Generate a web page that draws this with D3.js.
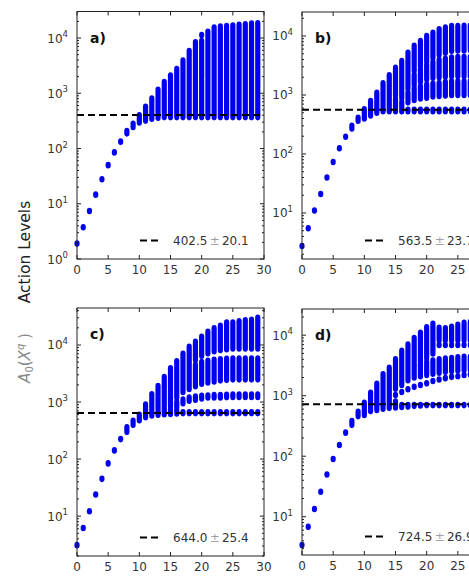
<!DOCTYPE html>
<html>
<head>
<meta charset="utf-8">
<script src="https://cdn.jsdelivr.net/npm/d3@7.9.0/dist/d3.min.js"></script>
<style>
  body { margin: 0; background: #fff; }
  text { font-family: "DejaVu Sans", sans-serif; }
</style>
</head>
<body>
<svg id="fig" width="469" height="585"></svg>
<script>
// x positions are 0..29, each entry is a list of [low, high] runs of points at that x
const xTicks = [0, 5, 10, 15, 20, 25, 30];
const labels = ['a)', 'b)', 'c)', 'd)'];
const means = [402.5, 563.5, 644.0, 724.5];
const errs = ['20.1', '23.7', '25.4', '26.9'];

const bandsA = [
  [[1.9, 1.9]], [[3.75, 3.75]], [[7.4, 7.4]], [[14.6, 14.6]], [[27.7, 27.7]],
  [[50, 50]], [[85, 85]], [[133, 133]], [[188, 208]], [[245, 280]],
  [[295, 400]], [[320, 570]], [[345, 800]], [[360, 1150]], [[370, 1600]],
  [[370, 2100]], [[370, 2750]], [[370, 3900]], [[370, 5800]], [[370, 8400]],
  [[370, 1700], [1950, 8800], [11300, 11300]], [[370, 13000]], [[370, 15500]], [[370, 16100]], [[370, 16500]],
  [[370, 16800]], [[370, 17400]], [[370, 17800]], [[370, 18200]], [[370, 18500]]
];

const bandsB = [
  [[2.76, 2.76]], [[5.5, 5.5]], [[11, 11]], [[21, 21]], [[40, 40]],
  [[73, 73]], [[125, 125]], [[196, 196]], [[270, 300]], [[365, 410]],
  [[400, 570]], [[450, 790]], [[500, 1090]], [[530, 1580]], [[530, 2150]],
  [[530, 850], [1000, 2900]],
  [[530, 760], [900, 3750]],
  [[530, 560], [750, 1100], [1300, 5200]],
  [[530, 560], [820, 1300], [1500, 2200], [2600, 6800]],
  [[530, 560], [870, 1400], [1700, 2700], [3100, 8200]],
  [[530, 560], [900, 1500], [1850, 3200], [3700, 10000]],
  [[530, 560], [940, 1550], [1950, 3600], [4300, 11300]],
  [[530, 560], [960, 1600], [2000, 3900], [4800, 13000]],
  [[530, 560], [980, 1650], [2050, 4100], [5200, 13900]],
  [[530, 560], [1000, 1700], [2100, 4300], [5600, 14800]],
  [[530, 560], [1000, 1700], [2100, 4400], [5700, 14800]],
  [[530, 560], [1000, 1700], [2100, 4400], [5700, 14900]],
  [[530, 560], [1000, 1700], [2100, 4400], [5800, 15000]],
  [[530, 560], [1000, 1700], [2100, 4400], [5800, 15000]],
  [[530, 560], [1000, 1700], [2100, 4400], [5800, 15100]]
];

const bandsC = [
  [[3.1, 3.1]], [[6.2, 6.2]], [[12.2, 12.2]], [[24, 24]], [[45, 45]],
  [[84, 84]], [[142, 142]], [[224, 224]], [[300, 360]], [[400, 470]],
  [[480, 600]], [[540, 900]], [[580, 1370]], [[600, 1900]], [[610, 2750]],
  [[620, 750], [850, 3900]],
  [[630, 700], [800, 1000], [1200, 5200]],
  [[640, 660], [950, 1100], [1500, 7000]],
  [[640, 660], [1050, 1200], [1700, 9300]],
  [[640, 660], [1100, 1250], [1900, 4500], [5500, 11400]],
  [[640, 660], [1150, 1280], [2100, 5000], [6500, 13900]],
  [[640, 660], [1200, 1300], [2200, 5300], [7200, 17100]],
  [[640, 660], [1200, 1320], [2300, 5500], [7800, 19600]],
  [[640, 660], [1200, 1330], [2400, 5600], [8200, 21600]],
  [[640, 660], [1220, 1340], [2450, 5700], [8400, 24700]],
  [[640, 660], [1230, 1350], [2500, 5800], [8700, 24700]],
  [[640, 660], [1230, 1350], [2500, 5800], [8700, 26000]],
  [[640, 660], [1230, 1350], [2500, 5800], [8700, 27000]],
  [[640, 660], [1230, 1350], [2500, 5800], [8700, 27500]],
  [[640, 660], [1230, 1350], [2500, 5800], [8700, 30000]]
];

const bandsD = [
  [[3.4, 3.4]], [[6.8, 6.8]], [[13.4, 13.4]], [[25.9, 25.9]], [[50, 50]],
  [[90, 90]], [[153, 153]], [[245, 245]], [[330, 380]], [[460, 540]],
  [[480, 760]], [[560, 1120]], [[580, 1580]], [[610, 2250]],
  [[630, 900], [1000, 2900]],
  [[640, 800], [1030, 1030], [1300, 4000]],
  [[650, 700], [1150, 1150], [1500, 5500]],
  [[660, 700], [1280, 1280], [1800, 7000]],
  [[680, 700], [1400, 1400], [2000, 3000], [3300, 9000]],
  [[690, 700], [1500, 1500], [2100, 3300], [3600, 11000]],
  [[700, 700], [1600, 1600], [2200, 3600], [4200, 13500]],
  [[700, 700], [1750, 1750], [2300, 3800], [5000, 15500]],
  [[700, 700], [1850, 1850], [2400, 4000], [6900, 6900], [8300, 13200]],
  [[700, 700], [1950, 1950], [2500, 4100], [6900, 6900], [8300, 13000]],
  [[700, 700], [2050, 2050], [2550, 4200], [6900, 6900], [8300, 13800]],
  [[700, 700], [2100, 2100], [2600, 4300], [6900, 6900], [8300, 14800]],
  [[700, 700], [2200, 2200], [2650, 4400], [6900, 6900], [8300, 16000]],
  [[700, 700], [2250, 2250], [2700, 4400], [6900, 6900], [8300, 16500]],
  [[700, 700], [2300, 2300], [2700, 4500], [6900, 6900], [8300, 17000]],
  [[700, 700], [2350, 2350], [2700, 4500], [6900, 6900], [8300, 17000]]
];

const allBands = [bandsA, bandsB, bandsC, bandsD];
const yDomains = [[1, 30200], [1.66, 25500], [2, 44500], [2.33, 27100]];

// panel boxes: left, right, top, bottom
const boxes = [[77, 264, 11.5, 259], [302, 489, 12, 259], [77, 264, 308, 556], [302, 489, 309, 555]];

const svg = d3.select('#fig');
const blue = '#0000f0';
const rx = 2.6, ry = 3.3;

boxes.forEach((b, p) => {
  const [L, R, T, B] = b;
  const x = d3.scaleLinear().domain([0, 30]).range([L, R]);
  const y = d3.scaleLog().domain(yDomains[p]).range([B, T]);
  const g = svg.append('g');

  // points
  allBands[p].forEach((runs, i) => {
    runs.forEach(([lo, hi]) => {
      g.append('rect')
        .attr('x', x(i) - rx).attr('width', rx * 2)
        .attr('y', y(hi) - ry).attr('height', y(lo) - y(hi) + ry * 2)
        .attr('rx', rx).attr('ry', ry)
        .attr('fill', blue);
    });
  });

  // mean line
  g.append('line')
    .attr('x1', L).attr('x2', R).attr('y1', y(means[p])).attr('y2', y(means[p]))
    .attr('stroke', '#000').attr('stroke-width', 2).attr('stroke-dasharray', '7,4');

  // frame
  g.append('rect').attr('x', L).attr('y', T).attr('width', R - L).attr('height', B - T)
    .attr('fill', 'none').attr('stroke', '#222').attr('stroke-width', 1);

  // x ticks (inside, top and bottom)
  xTicks.forEach(v => {
    g.append('line').attr('x1', x(v)).attr('x2', x(v)).attr('y1', B).attr('y2', B - 4).attr('stroke', '#222');
    g.append('line').attr('x1', x(v)).attr('x2', x(v)).attr('y1', T).attr('y2', T + 4).attr('stroke', '#222');
    g.append('text').attr('x', x(v)).attr('y', B + 15).attr('text-anchor', 'middle')
      .attr('font-size', 12).attr('fill', '#333').text(v);
  });

  // y ticks, major and minor, on both sides
  const [d0, d1] = yDomains[p];
  for (let k = Math.floor(Math.log10(d0)); k <= Math.ceil(Math.log10(d1)); k++) {
    for (let m = 1; m <= 9; m++) {
      const v = m * Math.pow(10, k);
      if (v < d0 - 1e-9 || v > d1) continue;
      const len = m === 1 ? 4 : 2;
      g.append('line').attr('x1', L).attr('x2', L + len).attr('y1', y(v)).attr('y2', y(v)).attr('stroke', '#222');
      g.append('line').attr('x1', R).attr('x2', R - len).attr('y1', y(v)).attr('y2', y(v)).attr('stroke', '#222');
      if (m === 1) {
        const t = g.append('text').attr('x', L - 9).attr('y', y(v) + 4.5)
          .attr('text-anchor', 'end').attr('font-size', 12).attr('fill', '#333');
        t.append('tspan').text('10');
        t.append('tspan').attr('dy', -5.5).attr('font-size', 8.5).text(k);
      }
    }
  }

  // panel label
  g.append('text').attr('x', L + 13).attr('y', T + 31)
    .attr('font-size', 14).attr('font-weight', 'bold').attr('fill', '#111').text(labels[p]);

  // legend
  const ly = B - 18.5;
  g.append('line').attr('x1', L + 63).attr('x2', L + 82).attr('y1', ly).attr('y2', ly)
    .attr('stroke', '#000').attr('stroke-width', 2).attr('stroke-dasharray', '7,4');
  const lt = g.append('text').attr('x', L + 96).attr('y', ly + 4.5)
    .attr('font-size', 12).attr('fill', '#333');
  lt.append('tspan').text(means[p].toFixed(1));
  lt.append('tspan').attr('dx', 2.5).attr('fill', '#a0a0a0').text('±');
  lt.append('tspan').attr('dx', 2).text(errs[p]);
});

// axis titles
svg.append('text')
  .attr('transform', 'translate(30,252) rotate(-90)')
  .attr('text-anchor', 'middle').attr('font-size', 15.5).attr('fill', '#222')
  .text('Action Levels');

const a0 = svg.append('text')
  .attr('transform', 'translate(30,358) rotate(-90)')
  .attr('text-anchor', 'middle').attr('font-size', 15).attr('fill', '#888')
  .attr('font-family', '"DejaVu Serif", serif');
a0.append('tspan').attr('font-style', 'italic').text('A');
a0.append('tspan').attr('font-size', 10).attr('dy', 3).text('0');
a0.append('tspan').attr('dy', -3).text('(');
a0.append('tspan').attr('font-style', 'italic').text('X');
a0.append('tspan').attr('font-style', 'italic').attr('font-size', 10).attr('dy', -6).text('q');
a0.append('tspan').attr('dy', 6).text(' )');
</script>
</body>
</html>
